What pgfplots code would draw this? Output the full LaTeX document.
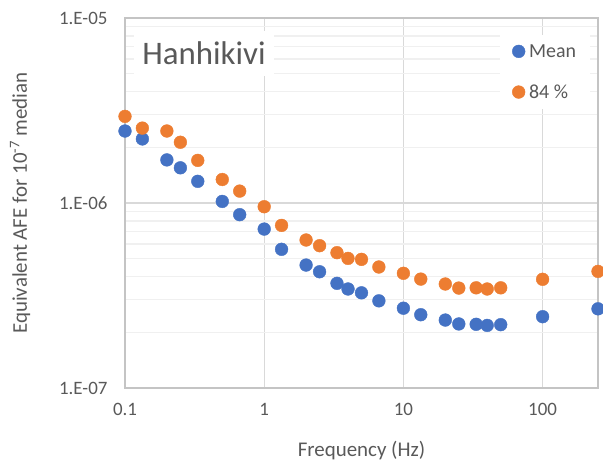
\documentclass[border=0pt]{standalone}
\usepackage{pgfplots}
\pgfplotsset{compat=1.18}
\usepackage{fontspec}
\setmainfont{Carlito}
\definecolor{xblue}{HTML}{4472C4}
\definecolor{xorange}{HTML}{ED7D31}
\definecolor{txt}{HTML}{595959}
\definecolor{gmaj}{HTML}{D9D9D9}
\definecolor{gmin}{HTML}{F0F0F0}
\definecolor{frame}{HTML}{C4C4C4}
\begin{document}
\begin{tikzpicture}
\useasboundingbox (-125bp,-80bp) rectangle (478bp,388bp);
\begin{axis}[
  scale only axis, width=473bp, height=370bp,
  xmode=log, ymode=log,
  xmin=0.1, xmax=250, ymin=1e-7, ymax=1e-5,
  xtick={0.1,1,10,100}, xticklabels={0.1,1,10,100},
  ytick={1e-7,1e-6,1e-5}, yticklabels={1.E-07,1.E-06,1.E-05},
  minor xtick={},
  minor ytick={2e-7,3e-7,4e-7,5e-7,6e-7,7e-7,8e-7,9e-7,2e-6,3e-6,4e-6,5e-6,6e-6,7e-6,8e-6,9e-6},
  xmajorgrids, ymajorgrids, yminorgrids,
  major grid style={gmaj, line width=1.3bp},
  minor grid style={gmin, line width=1.3bp},
  axis line style={frame, line width=1.5bp},
  major tick length=0pt, minor tick length=0pt,
  tick style={draw=none},
  /pgf/number format/assume math mode=true,
  ticklabel style={font=\fontsize{19}{22}\selectfont, text=txt},
  xticklabel style={anchor=north, yshift=-12bp},
  yticklabel style={anchor=east, xshift=-14bp},
  xlabel={Frequency (Hz)},
  ylabel={Equivalent AFE for 10\textsuperscript{-7} median},
  every axis x label/.style={at={(axis description cs:0.5,-0.168)}, anchor=center, font=\fontsize{21}{25}\selectfont, text=txt},
  every axis y label/.style={at={(axis description cs:-0.222,0.5)}, rotate=90, anchor=center, font=\fontsize{21}{25}\selectfont, text=txt},
  legend style={at={(axis description cs:0.793,0.954)}, anchor=north west, fill=white, draw=none,
    font=\fontsize{20}{24}\selectfont, text=txt, row sep=22bp, column sep=2bp, inner xsep=12bp, inner ysep=7bp},
  legend cell align=left,
  legend image code/.code={\draw[#1] plot coordinates {(0.2cm,0cm)};},
]
\addplot[only marks, mark=*, mark size=6.4bp, mark options={fill=xblue, draw=xblue}] coordinates {
(0.1,2.45e-6) (0.1333,2.22e-6) (0.2,1.71e-6) (0.25,1.55e-6) (0.3333,1.31e-6)
(0.5,1.02e-6) (0.6667,8.65e-7) (1,7.23e-7) (1.333,5.62e-7) (2,4.62e-7)
(2.5,4.25e-7) (3.333,3.68e-7) (4,3.43e-7) (5,3.27e-7) (6.667,2.96e-7)
(10,2.70e-7) (13.33,2.49e-7) (20,2.33e-7) (25,2.22e-7) (33.33,2.21e-7)
(40,2.18e-7) (50,2.20e-7) (100,2.43e-7) (250,2.68e-7)};
\addlegendentry{Mean}
\addplot[only marks, mark=*, mark size=6.4bp, mark options={fill=xorange, draw=xorange}] coordinates {
(0.1,2.94e-6) (0.1333,2.54e-6) (0.2,2.45e-6) (0.25,2.13e-6) (0.3333,1.70e-6)
(0.5,1.34e-6) (0.6667,1.16e-6) (1,9.55e-7) (1.333,7.57e-7) (2,6.31e-7)
(2.5,5.88e-7) (3.333,5.39e-7) (4,5.02e-7) (5,4.96e-7) (6.667,4.51e-7)
(10,4.17e-7) (13.33,3.88e-7) (20,3.65e-7) (25,3.47e-7) (33.33,3.48e-7)
(40,3.43e-7) (50,3.48e-7) (100,3.87e-7) (250,4.27e-7)};
\addlegendentry{84 \%}
\node[fill=white, text=txt, font=\fontsize{33}{40}\selectfont, minimum width=140bp, minimum height=45bp, inner sep=0pt]
  at (axis description cs:0.167,0.905) {Hanhikivi};
\end{axis}
\end{tikzpicture}
\end{document}
